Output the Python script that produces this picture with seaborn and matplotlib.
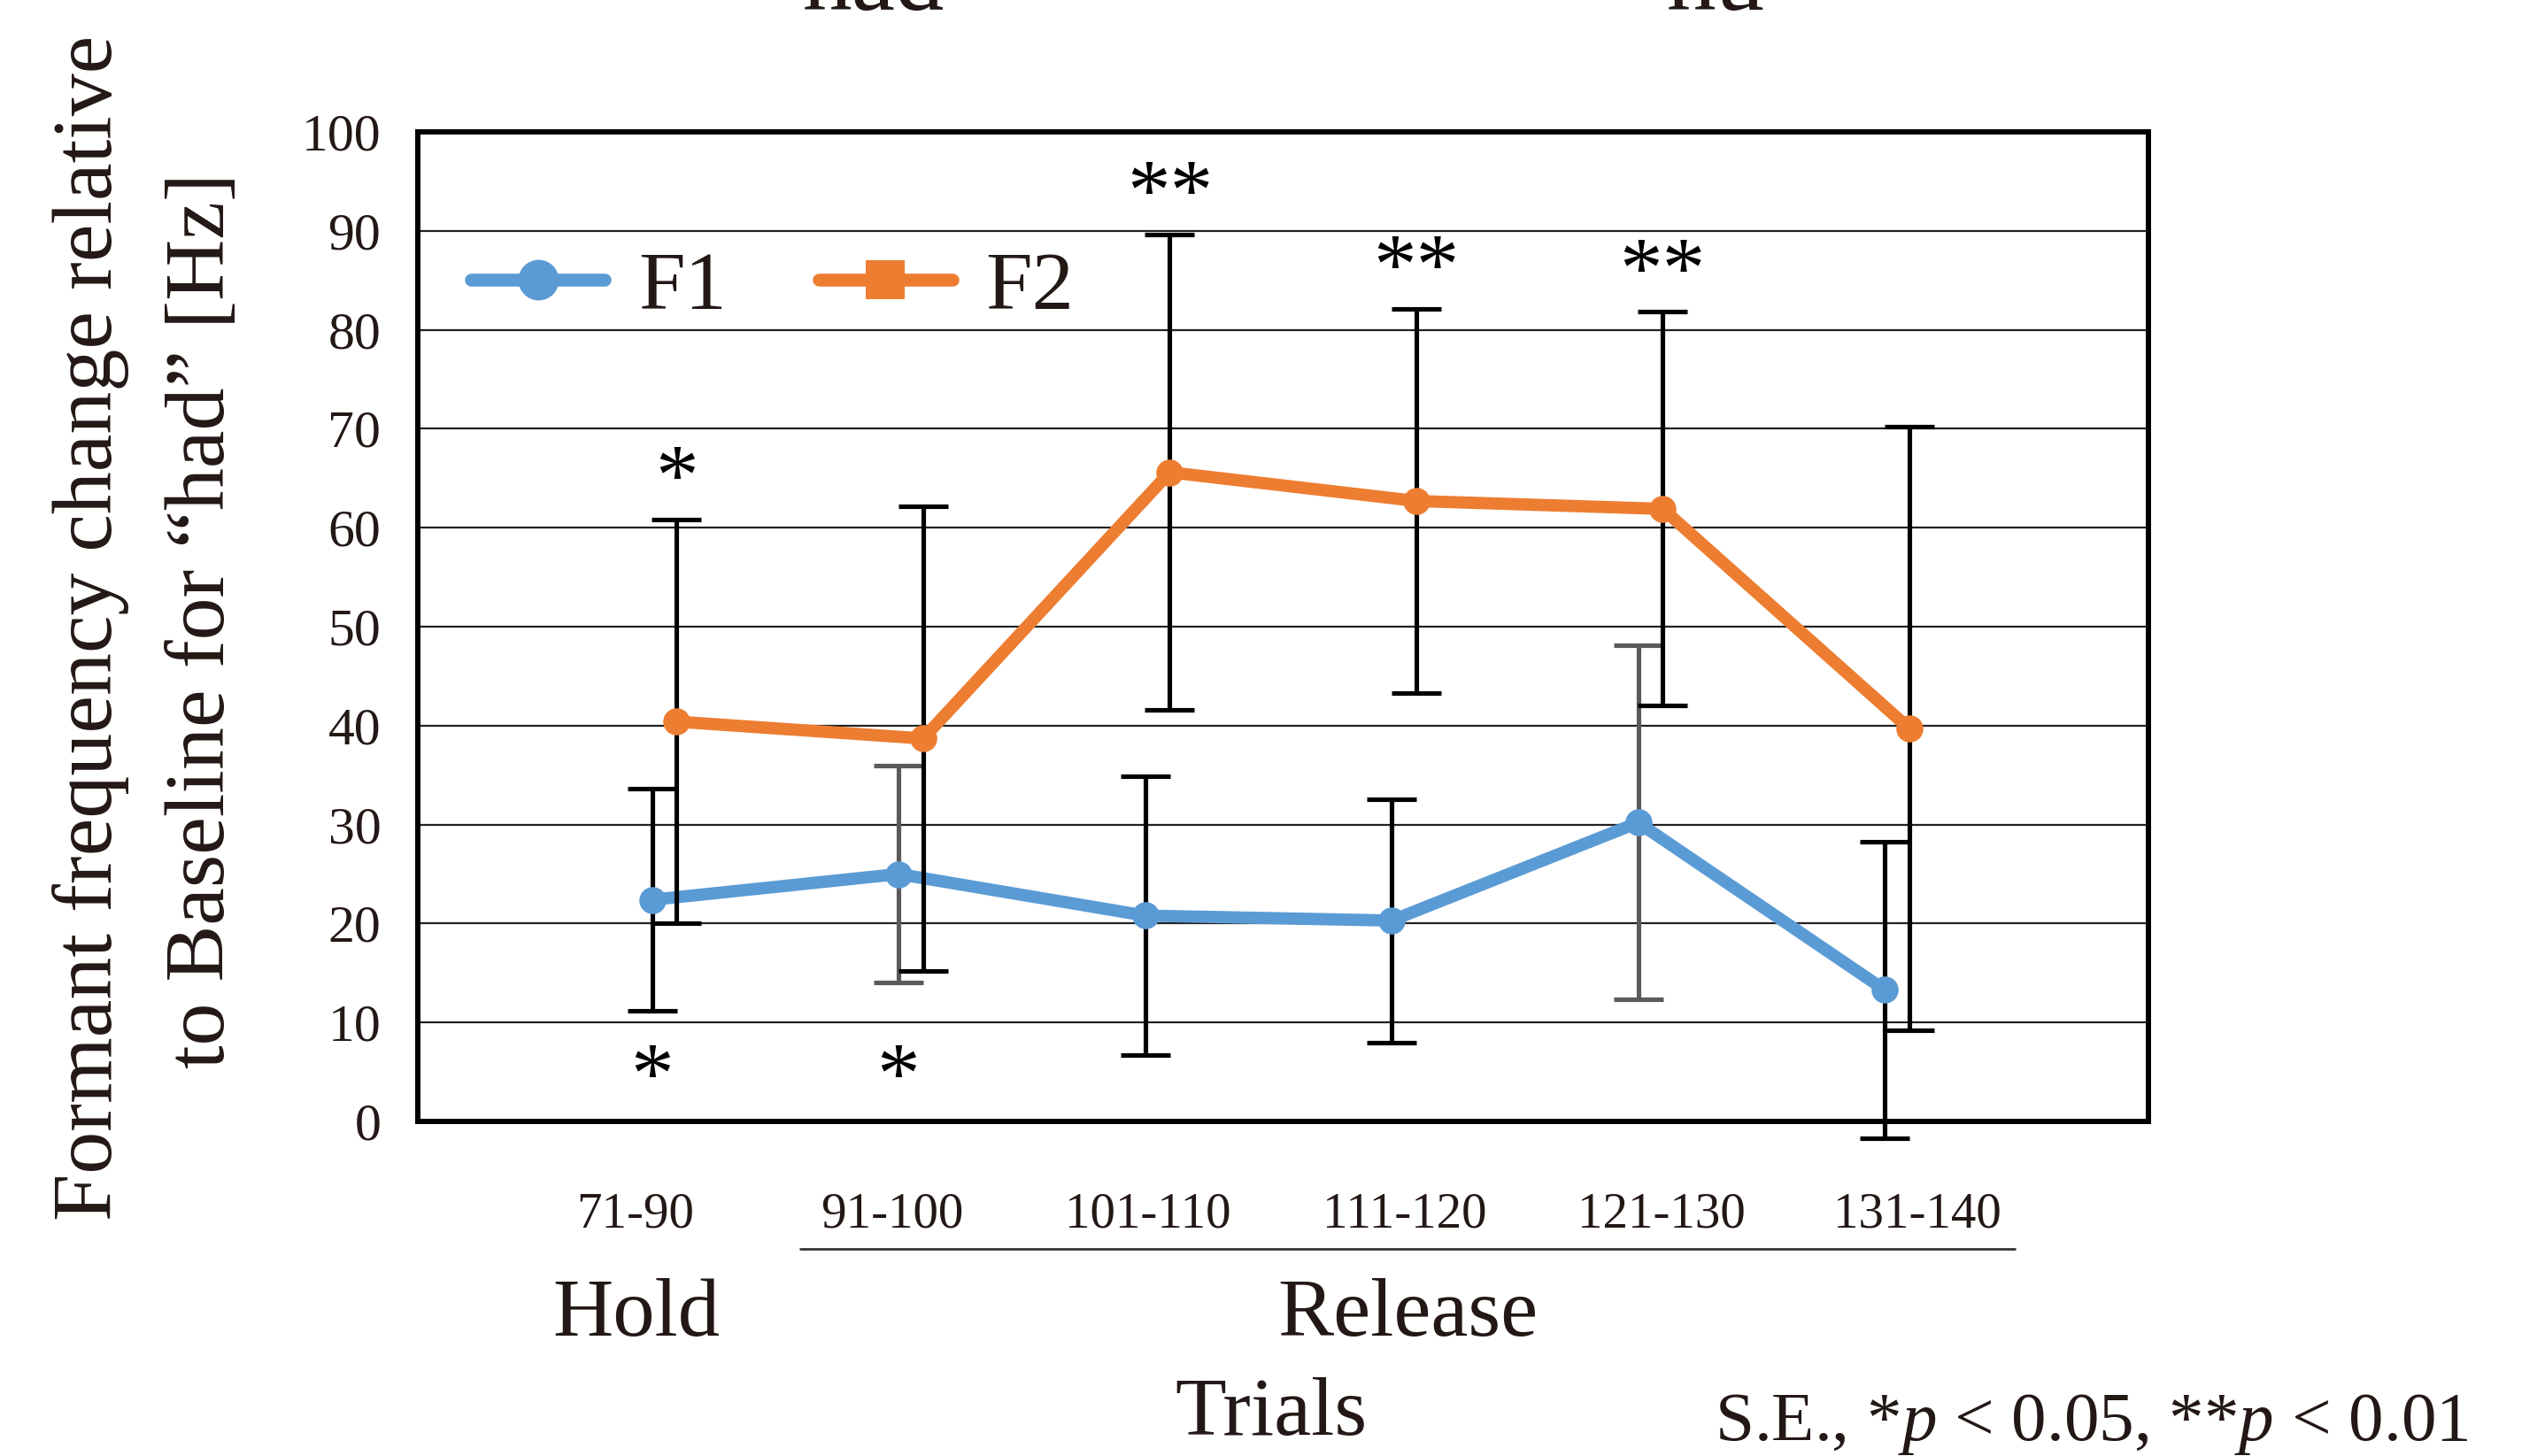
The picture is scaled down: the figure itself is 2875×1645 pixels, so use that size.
import numpy as np
import pandas as pd
import matplotlib
matplotlib.use("Agg")
import matplotlib.pyplot as plt
from matplotlib.lines import Line2D
import seaborn as sns

# ---------------- data ----------------
trials = ["71-90", "91-100", "101-110", "111-120", "121-130", "131-140"]
f1_mean = [22.4, 25.0, 20.8, 20.3, 30.2, 13.3]
f1_se = [11.2, 11.0, 14.1, 12.3, 17.9, 15.0]
f2_mean = [40.4, 38.7, 65.6, 62.7, 61.9, 39.7]
f2_se = [20.4, 23.5, 24.0, 19.4, 19.9, 30.5]
f1_sig = ["*", "*", "", "", "", ""]
f2_sig = ["*", "", "**", "**", "**", ""]
f1_err_gray = [False, True, False, False, True, False]
yticks = [0, 10, 20, 30, 40, 50, 60, 70, 80, 90, 100]

# ---------------- style ----------------
sns.set_theme(style="white")
plt.rcParams["font.family"] = ["Liberation Serif", "DejaVu Serif"]
plt.rcParams["mathtext.fontset"] = "custom"
plt.rcParams["mathtext.rm"] = "Liberation Serif"
plt.rcParams["mathtext.it"] = "Liberation Serif:italic"

BLUE = "#5B9BD5"
ORANGE = "#ED7D31"
TXT = "#231815"
W, H = 2875, 1645


def fx(x):
    return x / W


def fy(y):
    return 1 - y / H


fig = plt.figure(figsize=(W / 100, H / 100), dpi=100)
ax = fig.add_axes([fx(472), fy(1267), fx(2427) - fx(472), fy(149) - fy(1267)])

idx = np.arange(len(trials))
off = 0.05
df = pd.DataFrame({
    "x": np.concatenate([idx - off, idx + off]),
    "value": f1_mean + f2_mean,
    "se": f1_se + f2_se,
    "formant": ["F1"] * len(trials) + ["F2"] * len(trials),
})
d1 = df[df.formant == "F1"]
d2 = df[df.formant == "F2"]

# error bars F1
for (xv, yv, sv, g) in zip(d1.x, d1.value, d1.se, f1_err_gray):
    ax.errorbar(xv, yv, yerr=sv, fmt="none", ecolor="#5a5a5a" if g else "black",
                elinewidth=3.7, capsize=20, capthick=3.7, zorder=2, clip_on=False)
sns.lineplot(data=d1, x="x", y="value", ax=ax, color=BLUE, marker="o",
             markersize=22, markeredgewidth=0, linewidth=10, errorbar=None,
             legend=False, zorder=3)
# error bars F2
for (xv, yv, sv) in zip(d2.x, d2.value, d2.se):
    ax.errorbar(xv, yv, yerr=sv, fmt="none", ecolor="black",
                elinewidth=3.7, capsize=20, capthick=3.7, zorder=4, clip_on=False)
sns.lineplot(data=d2, x="x", y="value", ax=ax, color=ORANGE, marker="o",
             markersize=22, markeredgewidth=0, linewidth=10, errorbar=None,
             legend=False, zorder=5)
for ln in ax.lines:
    ln.set_solid_joinstyle("round")

# significance stars
for xv, yv, sv, s in zip(d2.x, d2.value, d2.se, f2_sig):
    if s:
        ax.text(xv, yv + sv + 1.6, s, ha="center", va="baseline", fontsize=70,
                color="black", zorder=6)
for xv, s in zip(d1.x, f1_sig):
    if s:
        ax.text(xv, 2.0, s, ha="center", va="baseline", fontsize=70,
                color="black", zorder=6)

# axes
ax.set_xlim(-1, 6.02)
ax.set_ylim(0, 100)
ax.set_yticks(yticks)
ax.set_yticklabels([str(t) for t in yticks], fontsize=43, color=TXT)
ax.set_xticks(idx * 1.04 - 0.117)
ax.set_xticklabels(trials, fontsize=41, color=TXT)
ax.tick_params(axis="y", length=0, pad=30)
ax.tick_params(axis="x", length=0, pad=57)
ax.set_xlabel("")
ax.set_ylabel("")
ax.yaxis.grid(True, color="#222222", linewidth=1.6)
ax.xaxis.grid(False)
ax.set_axisbelow(True)
for sp in ax.spines.values():
    sp.set_visible(True)
    sp.set_color("black")
    sp.set_linewidth(4.3)

# legend
handles = [
    Line2D([], [], color=BLUE, marker="o", markersize=33, markeredgewidth=0,
           linewidth=10.5, solid_capstyle="round"),
    Line2D([], [], color=ORANGE, marker="s", markersize=32, markeredgewidth=0,
           linewidth=10.5, solid_capstyle="round"),
]
leg = ax.legend(handles, ["F1", "F2"], loc="center left",
                bbox_to_anchor=(0.0307, 0.842), ncol=2, frameon=False,
                fontsize=68, handlelength=1.6, handletextpad=0.4,
                columnspacing=1.1, borderaxespad=0, borderpad=0)
for t in leg.get_texts():
    t.set_color(TXT)

# y label (two lines)
fig.text(fx(126), fy(709), "Formant frequency change relative", rotation=90,
         rotation_mode="anchor", ha="center", va="baseline", fontsize=69, color=TXT)
fig.text(fx(253), fy(701), "to Baseline for \u201chad\u201d [Hz]", rotation=90,
         rotation_mode="anchor", ha="center", va="baseline", fontsize=69, color=TXT)

# group labels
fig.add_artist(Line2D([fx(904), fx(2276)], [fy(1411), fy(1411)],
                      color="#333333", linewidth=2.0))
fig.text(fx(719), fy(1509), "Hold", ha="center", va="baseline", fontsize=68, color=TXT)
fig.text(fx(1590), fy(1509), "Release", ha="center", va="baseline", fontsize=68, color=TXT)
fig.text(fx(1436), fy(1621), "Trials", ha="center", va="baseline", fontsize=68, color=TXT)
fig.text(fx(2788), fy(1627), r"S.E., *$p$ < 0.05, **$p$ < 0.01", ha="right",
         va="baseline", fontsize=57, color=TXT)

# partially visible words from the panel above (cut off at the top, as in the source)
fig.text(fx(987), fy(11), "had", ha="center", va="baseline", fontsize=80, color=TXT)
fig.text(fx(1938), fy(11), "hu", ha="center", va="baseline", fontsize=80, color=TXT)

fig.savefig("out.png", dpi=100)
